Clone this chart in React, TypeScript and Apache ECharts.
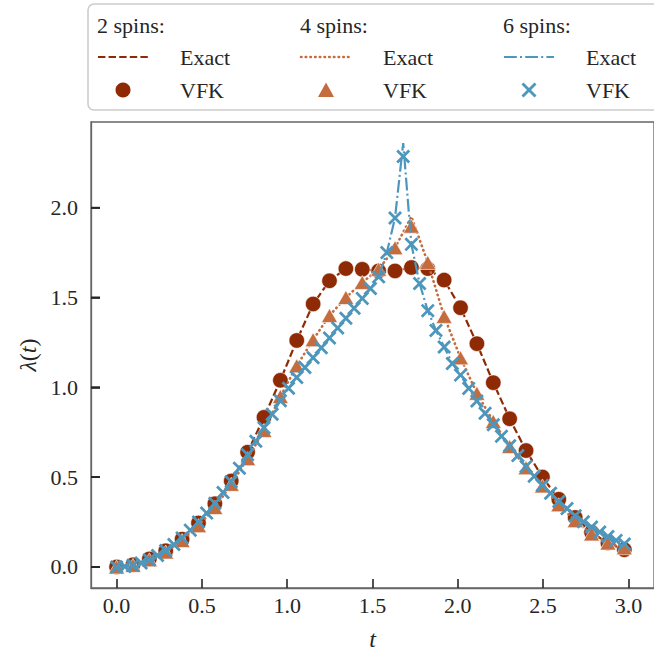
import React, { useEffect, useRef } from "react";
import * as echarts from "echarts";

// Time grids
const tCoarse = [
  0, 0.096, 0.192, 0.288, 0.384, 0.48, 0.576, 0.672, 0.768, 0.864, 0.96, 1.056, 1.152, 1.248, 1.344, 1.44,
  1.536, 1.632, 1.728, 1.824, 1.92, 2.016, 2.112, 2.208, 2.304, 2.4, 2.496, 2.592, 2.688, 2.784, 2.88, 2.976,
];
const tFine = [
  0, 0.048, 0.096, 0.144, 0.192, 0.24, 0.288, 0.336, 0.384, 0.432, 0.48, 0.528, 0.576, 0.624, 0.672, 0.72,
  0.768, 0.816, 0.864, 0.912, 0.96, 1.008, 1.056, 1.104, 1.152, 1.2, 1.248, 1.296, 1.344, 1.392, 1.44, 1.488,
  1.536, 1.584, 1.632, 1.68, 1.728, 1.776, 1.824, 1.872, 1.92, 1.968, 2.016, 2.064, 2.112, 2.16, 2.208, 2.256,
  2.304, 2.352, 2.4, 2.448, 2.496, 2.544, 2.592, 2.64, 2.688, 2.736, 2.784, 2.832, 2.88, 2.928, 2.976,
];

// 2 spins
const exact2 = [
  0.0, 0.012, 0.045, 0.09, 0.155, 0.245, 0.352, 0.479, 0.639, 0.833, 1.039, 1.261, 1.464, 1.593, 1.661, 1.657,
  1.648, 1.648, 1.667, 1.661, 1.597, 1.443, 1.243, 1.026, 0.825, 0.648, 0.501, 0.377, 0.276, 0.193, 0.133, 0.096,
];
const vfk2 = [
  0.0, 0.012, 0.045, 0.09, 0.155, 0.245, 0.352, 0.479, 0.639, 0.833, 1.039, 1.261, 1.464, 1.593, 1.661, 1.657,
  1.648, 1.648, 1.667, 1.661, 1.597, 1.443, 1.243, 1.026, 0.825, 0.648, 0.501, 0.377, 0.276, 0.193, 0.133, 0.096,
];

// 4 spins
const exact4 = [
  0.0, 0.009, 0.04, 0.083, 0.147, 0.23, 0.331, 0.46, 0.603, 0.76, 0.949, 1.12, 1.265, 1.4, 1.5, 1.584,
  1.657, 1.777, 1.95, 1.695, 1.395, 1.164, 0.967, 0.81, 0.67, 0.552, 0.451, 0.346, 0.258, 0.184, 0.133, 0.107,
];
const vfk4 = [
  0.0, 0.009, 0.04, 0.083, 0.147, 0.23, 0.331, 0.46, 0.603, 0.76, 0.949, 1.12, 1.265, 1.4, 1.5, 1.584,
  1.657, 1.777, 1.897, 1.695, 1.395, 1.164, 0.967, 0.81, 0.67, 0.552, 0.451, 0.346, 0.258, 0.184, 0.133, 0.107,
];

// 6 spins
const exact6 = [
  0, 0.003, 0.01, 0.022, 0.04, 0.064, 0.092, 0.125, 0.162, 0.205, 0.25, 0.3, 0.355, 0.415, 0.475, 0.55,
  0.625, 0.7, 0.775, 0.85, 0.925, 0.995, 1.055, 1.11, 1.165, 1.22, 1.275, 1.33, 1.385, 1.44, 1.495, 1.55,
  1.615, 1.75, 1.943, 2.36, 1.796, 1.578, 1.427, 1.317, 1.225, 1.133, 1.068, 0.994, 0.924, 0.856, 0.792, 0.728,
  0.675, 0.62, 0.56, 0.505, 0.455, 0.41, 0.365, 0.325, 0.285, 0.252, 0.222, 0.195, 0.17, 0.148, 0.128,
];
const vfk6 = [
  0, 0.003, 0.01, 0.022, 0.04, 0.064, 0.092, 0.125, 0.162, 0.205, 0.25, 0.3, 0.355, 0.415, 0.475, 0.55,
  0.625, 0.7, 0.775, 0.85, 0.925, 0.995, 1.055, 1.11, 1.165, 1.22, 1.275, 1.33, 1.385, 1.44, 1.495, 1.55,
  1.615, 1.75, 1.943, 2.285, 1.796, 1.578, 1.427, 1.317, 1.225, 1.133, 1.068, 0.994, 0.924, 0.856, 0.792, 0.728,
  0.675, 0.62, 0.56, 0.505, 0.455, 0.41, 0.365, 0.325, 0.285, 0.252, 0.222, 0.195, 0.17, 0.148, 0.128,
];

const X_MIN = -0.15;
const X_MAX = 3.15;
const Y_MIN = -0.117;
const Y_MAX = 2.477;
const xTicks = [0, 0.5, 1, 1.5, 2, 2.5, 3];
const yTicks = [0, 0.5, 1, 1.5, 2];
const groupLabels = ["2 spins:", "4 spins:", "6 spins:"];

const C2 = "#8e2a04";
const C4 = "#c56c3e";
const C6 = "#4d96bc";
const INK = "#262626";
const SPINE = "#666666";
const FONT = "'Liberation Serif', 'DejaVu Serif', serif";
const TICK_LEN = 9;

const CROSS =
  "path://M0,1.4L1.4,0L5,3.6L8.6,0L10,1.4L6.4,5L10,8.6L8.6,10L5,6.4L1.4,10L0,8.6L3.6,5Z";

const DASHED = [7.4, 3.2];
const DOTTED = [0.5, 4.2];
const DASHDOT = [12.8, 3.2, 2, 3.2];

const zip = (xs: number[], ys: number[]) => xs.map((x, i) => [x, ys[i]]);

function legendGraphics() {
  const els: any[] = [];
  els.push({
    type: "rect",
    shape: { x: 88, y: 4, width: 620, height: 106, r: 6 },
    style: { fill: "#ffffff", stroke: "#cccccc", lineWidth: 1.6 },
    z: 10,
  });
  const colX = [97, 300, 503];
  const dashes = [DASHED, DOTTED, DASHDOT];
  const colors = [C2, C4, C6];
  const text = (x: number, y: number, s: string) => ({
    type: "text",
    x,
    y,
    z: 11,
    style: { text: s, fontSize: 22, fontFamily: FONT, fill: INK, verticalAlign: "middle", align: "left" },
  });
  colX.forEach((x0, i) => {
    els.push(text(x0, 25, groupLabels[i]));
    els.push({
      type: "line",
      z: 11,
      shape: { x1: x0 + 1, y1: 57, x2: x0 + 51, y2: 57 },
      style: {
        stroke: colors[i],
        lineWidth: i === 1 ? 2.6 : 2.2,
        lineDash: dashes[i],
        lineCap: i === 1 ? "round" : "butt",
      },
    });
    els.push(text(x0 + 83, 57, "Exact"));
    els.push(text(x0 + 83, 90, "VFK"));
    const cx = x0 + 26;
    if (i === 0) {
      els.push({ type: "circle", z: 11, shape: { cx, cy: 90, r: 7.5 }, style: { fill: C2 } });
    } else if (i === 1) {
      els.push({
        type: "polygon",
        z: 11,
        shape: { points: [[cx, 82.5], [cx - 8, 97], [cx + 8, 97]] },
        style: { fill: C4 },
      });
    } else {
      els.push({ type: "line", z: 11, shape: { x1: cx - 6.5, y1: 83.5, x2: cx + 6.5, y2: 96.5 }, style: { stroke: C6, lineWidth: 2.8 } });
      els.push({ type: "line", z: 11, shape: { x1: cx - 6.5, y1: 96.5, x2: cx + 6.5, y2: 83.5 }, style: { stroke: C6, lineWidth: 2.8 } });
    }
  });
  return els;
}

export default function App() {
  const ref = useRef<HTMLDivElement>(null);
  useEffect(() => {
    if (!ref.current) return;
    const chart = echarts.init(ref.current, undefined, { renderer: "svg" });
    chart.setOption({
      animation: false,
      backgroundColor: "#ffffff",
      grid: {
        left: 91,
        top: 122,
        width: 570,
        height: 469,
        show: true,
        borderColor: SPINE,
        borderWidth: 1.3,
        backgroundColor: "transparent",
      },
      xAxis: {
        type: "value",
        position: "bottom",
        min: X_MIN,
        max: X_MAX,
        axisLine: { show: true, onZero: false, lineStyle: { color: SPINE, width: 1.3 } },
        splitLine: { show: false },
        axisTick: {
          show: true,
          inside: true,
          length: TICK_LEN,
          lineStyle: { color: INK, width: 1.6 },
          customValues: xTicks,
        },
        axisLabel: {
          customValues: xTicks,
          formatter: (v: number) => v.toFixed(1),
          fontSize: 22,
          fontFamily: FONT,
          color: INK,
          margin: 6,
        },
        name: "t",
        nameLocation: "middle",
        nameGap: 39,
        nameTextStyle: { fontSize: 24, fontFamily: FONT, fontStyle: "italic", color: INK },
      },
      yAxis: {
        type: "value",
        position: "left",
        min: Y_MIN,
        max: Y_MAX,
        axisLine: { show: true, onZero: false, lineStyle: { color: SPINE, width: 1.3 } },
        splitLine: { show: false },
        axisTick: {
          show: true,
          inside: true,
          length: TICK_LEN,
          lineStyle: { color: INK, width: 1.6 },
          customValues: yTicks,
        },
        axisLabel: {
          customValues: yTicks,
          formatter: (v: number) => v.toFixed(1),
          fontSize: 22,
          fontFamily: FONT,
          color: INK,
          margin: 13,
        },
        name: "{i|λ}{n|(}{i|t}{n|)}",
        nameLocation: "middle",
        nameGap: 45,
        nameTextStyle: {
          fontSize: 24,
          fontFamily: FONT,
          color: INK,
          rich: {
            i: { fontSize: 24, fontFamily: FONT, fontStyle: "italic", color: INK },
            n: { fontSize: 24, fontFamily: FONT, color: INK },
          },
        },
      },
      series: [
        {
          // short inward marks on the left spine at each y tick
          type: "scatter",
          data: yTicks.map((v) => [X_MIN, v]),
          symbol: "rect",
          symbolSize: [TICK_LEN, 1.6],
          symbolOffset: [TICK_LEN / 2, 0],
          itemStyle: { color: INK, opacity: 1 },
          clip: false,
          silent: true,
          z: 20,
        },
        {
          type: "line",
          name: "Exact (2 spins)",
          data: zip(tCoarse, exact2),
          symbol: "none",
          lineStyle: { color: C2, width: 2.2, type: DASHED },
          z: 2,
        },
        {
          type: "scatter",
          name: "VFK (2 spins)",
          data: zip(tCoarse, vfk2),
          symbol: "circle",
          symbolSize: 15.5,
          itemStyle: { color: C2, borderColor: "#ffffff", borderWidth: 0.6, opacity: 1 },
          z: 3,
        },
        {
          type: "line",
          name: "Exact (4 spins)",
          data: zip(tCoarse, exact4),
          symbol: "none",
          lineStyle: { color: C4, width: 2.6, type: DOTTED, cap: "round" },
          z: 4,
        },
        {
          type: "scatter",
          name: "VFK (4 spins)",
          data: zip(tCoarse, vfk4),
          symbol: "triangle",
          symbolSize: [16, 14],
          itemStyle: { color: C4, borderColor: "#ffffff", borderWidth: 0.6, opacity: 1 },
          z: 5,
        },
        {
          type: "line",
          name: "Exact (6 spins)",
          data: zip(tFine, exact6),
          symbol: "none",
          lineStyle: { color: C6, width: 2.2, type: DASHDOT },
          z: 6,
        },
        {
          type: "scatter",
          name: "VFK (6 spins)",
          data: zip(tFine, vfk6),
          symbol: CROSS,
          symbolSize: 14,
          itemStyle: { color: C6, opacity: 1 },
          z: 7,
        },
      ],
      graphic: legendGraphics(),
    });

    // Inward tick marks on the left spine, placed through the y scale
    const yTickMarks = yTicks.map((v) => {
      const p = chart.convertToPixel({ xAxisIndex: 0, yAxisIndex: 0 }, [X_MIN, v]) as number[];
      return {
        type: "rect",
        z: 50,
        silent: true,
        shape: { x: p[0], y: p[1] - 0.8, width: TICK_LEN, height: 1.6 },
        style: { fill: INK },
      };
    });
    chart.setOption({ graphic: [...legendGraphics(), ...yTickMarks] });

    return () => chart.dispose();
  }, []);
  return (
    <div
      ref={ref}
      style={{ position: "absolute", left: 0, top: 0, width: 654, height: 656, overflow: "hidden" }}
    />
  );
}
